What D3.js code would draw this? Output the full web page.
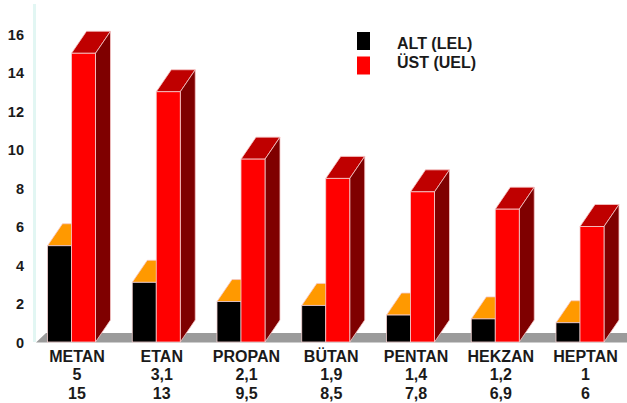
<!DOCTYPE html>
<html>
<head>
<meta charset="utf-8">
<script src="https://cdn.jsdelivr.net/npm/d3@7"></script>
<style>
html,body{margin:0;padding:0;background:#fff;}
svg{display:block;}
text{font-family:"Liberation Sans",Arial,sans-serif;font-weight:bold;fill:#1a1a1a;}
</style>
</head>
<body>
<svg id="chart" width="627" height="403"></svg>
<script>
// Flammability limits of the light alkanes, % by volume
const gases = ["METAN","ETAN","PROPAN","BÜTAN","PENTAN","HEKZAN","HEPTAN"];
const lowerLimit = [5,3.1,2.1,1.9,1.4,1.2,1];
const upperLimit = [15,13,9.5,8.5,7.8,6.9,6];
const lowerLabels = ["5","3,1","2,1","1,9","1,4","1,2","1"];
const upperLabels = ["15","13","9,5","8,5","7,8","6,9","6"];
const yTicks = [0,2,4,6,8,10,12,14,16];
const legendNames = ["ALT (LEL)","ÜST (UEL)"];

const svg = d3.select("#chart");
const y = d3.scaleLinear().domain([0,16]).range([342,34]);
const x = d3.scalePoint().domain(gases).range([71.5,580]);
const barW = 24, depthX = 15, depthY = 22;

// back wall edge and floor of the 3D plot area
svg.append("rect").attr("x",33).attr("y",4).attr("width",3).attr("height",338).attr("fill","#e2f6f3");
svg.append("path").attr("d","M29,342.5L36,342.5L46,333L627,333L627,342.5Z").attr("fill","#9b9b9b");

// one extruded bar: top and side faces first, front face last
function bar(g, x0, value, colors){
  const top = y(value), base = y(0), x1 = x0 + barW;
  g.append("path")
    .attr("d",`M${x0},${top}L${x0+depthX},${top-depthY}L${x1+depthX},${top-depthY}L${x1},${top}Z`)
    .attr("fill",colors.top).attr("stroke","#f6c8c8").attr("stroke-width",0.8);
  g.append("path")
    .attr("d",`M${x1},${top}L${x1+depthX},${top-depthY}L${x1+depthX},${base-depthY}L${x1},${base}Z`)
    .attr("fill",colors.side).attr("stroke","#f6c8c8").attr("stroke-width",0.8);
  g.append("rect").attr("x",x0).attr("y",top).attr("width",barW).attr("height",base-top)
    .attr("fill",colors.front).attr("stroke","#f3d0d0").attr("stroke-width",0.8);
}
const lowColors = {front:"#000000",top:"#ff9900",side:"#7f4c00"};
const highColors = {front:"#ff0000",top:"#bf0000",side:"#7f0000"};

gases.forEach((name,i)=>{
  const g = svg.append("g");
  bar(g, x(name)-barW, lowerLimit[i], lowColors);
  bar(g, x(name), upperLimit[i], highColors);
});

// value axis
const axis = svg.append("g").attr("transform","translate(29,0.5)")
  .call(d3.axisLeft(y).tickValues(yTicks).tickSize(0).tickPadding(5));
axis.select(".domain").remove();
axis.selectAll("text").style("font-family",'"Liberation Sans",Arial,sans-serif')
  .style("font-size","14.5px").style("font-weight","bold");

// category names with both limits underneath
const rows = [[gases,361.5],[lowerLabels,380],[upperLabels,398.5]];
rows.forEach(([labels,py])=>{
  svg.append("g").selectAll("text").data(labels).join("text")
    .attr("x",(d,i)=>x(gases[i])+5.5).attr("y",py)
    .attr("text-anchor","middle").attr("font-size",16).text(d=>d);
});

// legend
const legendColors = [lowColors.front,highColors.front];
const legendY = d3.scalePoint().domain(legendNames).range([41,65.5]);
legendNames.forEach((n,i)=>{
  svg.append("rect").attr("x",357).attr("y",legendY(n)-9).attr("width",13).attr("height",18).attr("fill",legendColors[i]);
  svg.append("text").attr("x",397).attr("y",i?67.5:48.5).attr("font-size",16).text(n);
});
</script>
</body>
</html>
